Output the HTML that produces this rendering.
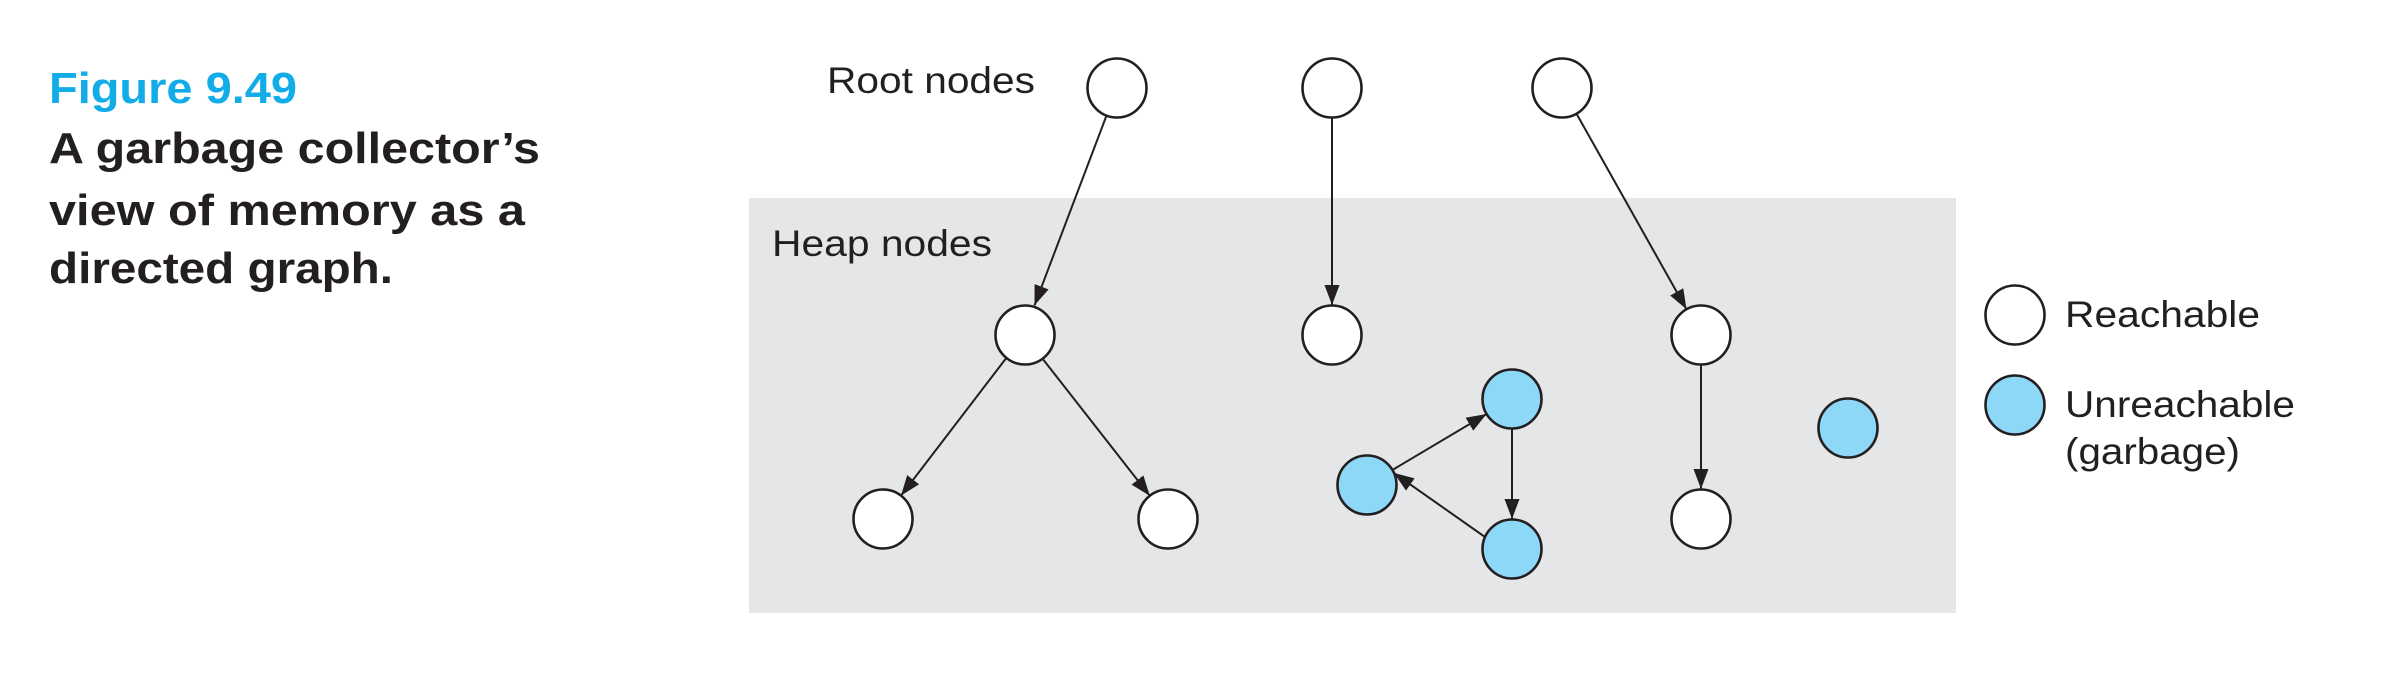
<!DOCTYPE html>
<html><head><meta charset="utf-8"><style>
html,body{margin:0;padding:0;background:#fff;}
svg{display:block;}
</style></head><body>
<svg width="2386" height="688" viewBox="0 0 2386 688" xmlns="http://www.w3.org/2000/svg">
<defs>
<marker id="a" markerUnits="userSpaceOnUse" markerWidth="22" markerHeight="18" refX="20" refY="9" orient="auto">
<path d="M0,1.5 L20,9 L0,16.5 Z" fill="#231f20"/>
</marker>
</defs>
<g font-family="'Liberation Sans', sans-serif" font-weight="bold" font-size="44">
<text x="49" y="103" fill="#12ade9" textLength="248" lengthAdjust="spacingAndGlyphs">Figure 9.49</text>
<text x="49" y="163" fill="#231f20" textLength="491" lengthAdjust="spacingAndGlyphs">A garbage collector’s</text>
<text x="49" y="225" fill="#231f20" textLength="476" lengthAdjust="spacingAndGlyphs">view of memory as a</text>
<text x="49" y="283" fill="#231f20" textLength="344" lengthAdjust="spacingAndGlyphs">directed graph.</text>
</g>
<rect x="749" y="198" width="1207" height="415" fill="#e5e6e8"/>
<g font-family="'Liberation Sans', sans-serif" font-size="37" fill="#231f20">
<text x="827" y="93" textLength="208" lengthAdjust="spacingAndGlyphs">Root nodes</text>
<text x="772" y="256" textLength="220" lengthAdjust="spacingAndGlyphs">Heap nodes</text>
<text x="2065" y="327" textLength="195" lengthAdjust="spacingAndGlyphs">Reachable</text>
<text x="2065" y="417" textLength="230" lengthAdjust="spacingAndGlyphs">Unreachable</text>
<text x="2065" y="464" textLength="175" lengthAdjust="spacingAndGlyphs">(garbage)</text>
</g>
<g stroke="#231f20" stroke-width="2" marker-end="url(#a)">
<line x1="1106.5" y1="115.6" x2="1034.5" y2="305.4"/>
<line x1="1332" y1="118" x2="1332" y2="305"/>
<line x1="1576.5" y1="113.7" x2="1686.5" y2="309.3"/>
<line x1="1006" y1="358.4" x2="901" y2="495.6"/>
<line x1="1042.2" y1="358.2" x2="1149.8" y2="495.8"/>
<line x1="1701" y1="365" x2="1701" y2="489"/>
<line x1="1392.4" y1="470" x2="1486.6" y2="414"/>
<line x1="1512" y1="429" x2="1512" y2="519"/>
<line x1="1485" y1="537" x2="1394" y2="473"/>
</g>
<g stroke="#231f20" stroke-width="2.6" fill="#fff">
<circle cx="1117" cy="88" r="29.5"/>
<circle cx="1332" cy="88" r="29.5"/>
<circle cx="1562" cy="88" r="29.5"/>
<circle cx="1025" cy="335" r="29.5"/>
<circle cx="1332" cy="335" r="29.5"/>
<circle cx="1701" cy="335" r="29.5"/>
<circle cx="883" cy="519" r="29.5"/>
<circle cx="1168" cy="519" r="29.5"/>
<circle cx="1701" cy="519" r="29.5"/>
<circle cx="2015" cy="315" r="29.5"/>
</g>
<g stroke="#231f20" stroke-width="2.6" fill="#8dd8f6">
<circle cx="1512" cy="399" r="29.5"/>
<circle cx="1367" cy="485" r="29.5"/>
<circle cx="1512" cy="549" r="29.5"/>
<circle cx="1848" cy="428" r="29.5"/>
<circle cx="2015" cy="405" r="29.5"/>
</g>
</svg>
</body></html>
